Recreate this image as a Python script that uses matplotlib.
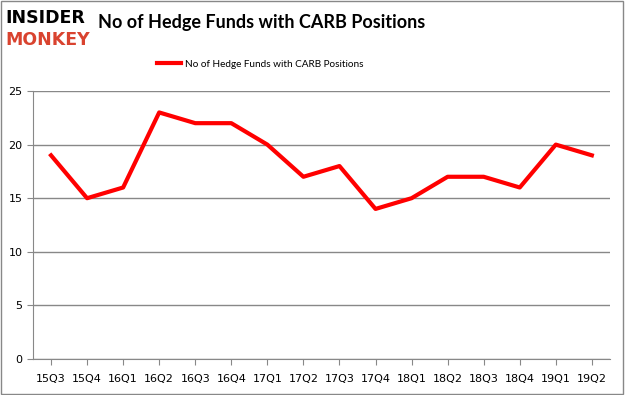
import matplotlib.pyplot as plt
from matplotlib.patches import Rectangle

quarters = ['15Q3', '15Q4', '16Q1', '16Q2', '16Q3', '16Q4', '17Q1', '17Q2',
            '17Q3', '17Q4', '18Q1', '18Q2', '18Q3', '18Q4', '19Q1', '19Q2']
funds = [19, 15, 16, 23, 22, 22, 20, 17, 18, 14, 15, 17, 17, 16, 20, 19]
label = 'No of Hedge Funds with CARB Positions'

fig = plt.figure(figsize=(6.25, 3.95), dpi=100)
ax = fig.add_axes([0.0528, 0.0911, 0.923, 0.6785])

x = range(len(quarters))
ax.plot(x, funds, color='#ff0000', linewidth=3, label=label)

ax.set_xlim(-0.5, len(quarters) - 0.5)
ax.set_ylim(0, 25)
ax.set_yticks(range(0, 26, 5))
ax.set_xticks(x)
ax.set_xticklabels(quarters)
ax.grid(axis='y', color='#888888', linewidth=1)
ax.set_axisbelow(True)
for s in ['top', 'right']:
    ax.spines[s].set_visible(False)
for s in ['left', 'bottom']:
    ax.spines[s].set_color('#888888')
ax.tick_params(axis='both', labelsize=8, colors='#888888', labelcolor='black', length=4)
ax.tick_params(axis='x', pad=7)

# border
fig.patches.append(Rectangle((0.002, 0.003), 0.995, 0.994, transform=fig.transFigure,
                             fill=False, edgecolor='#888888', linewidth=1))

# logo
fig.text(0.008, 0.955, 'INSIDER', fontsize=12.5, fontweight='bold', color='black',
         family='DejaVu Sans', va='center')
fig.text(0.008, 0.898, 'MONKEY', fontsize=12.5, fontweight='bold', color='#d9432f',
         family='DejaVu Sans', va='center')

fig.text(0.418, 0.942, label, fontsize=13, fontweight='bold', ha='center', va='center',
         family='Lato')

ax.legend(loc='lower center', bbox_to_anchor=(0.394, 1.05), frameon=False,
          prop={'family': 'Lato', 'size': 7.2}, handlelength=2.4, handletextpad=0.4)

fig.savefig('out.png', dpi=100)
